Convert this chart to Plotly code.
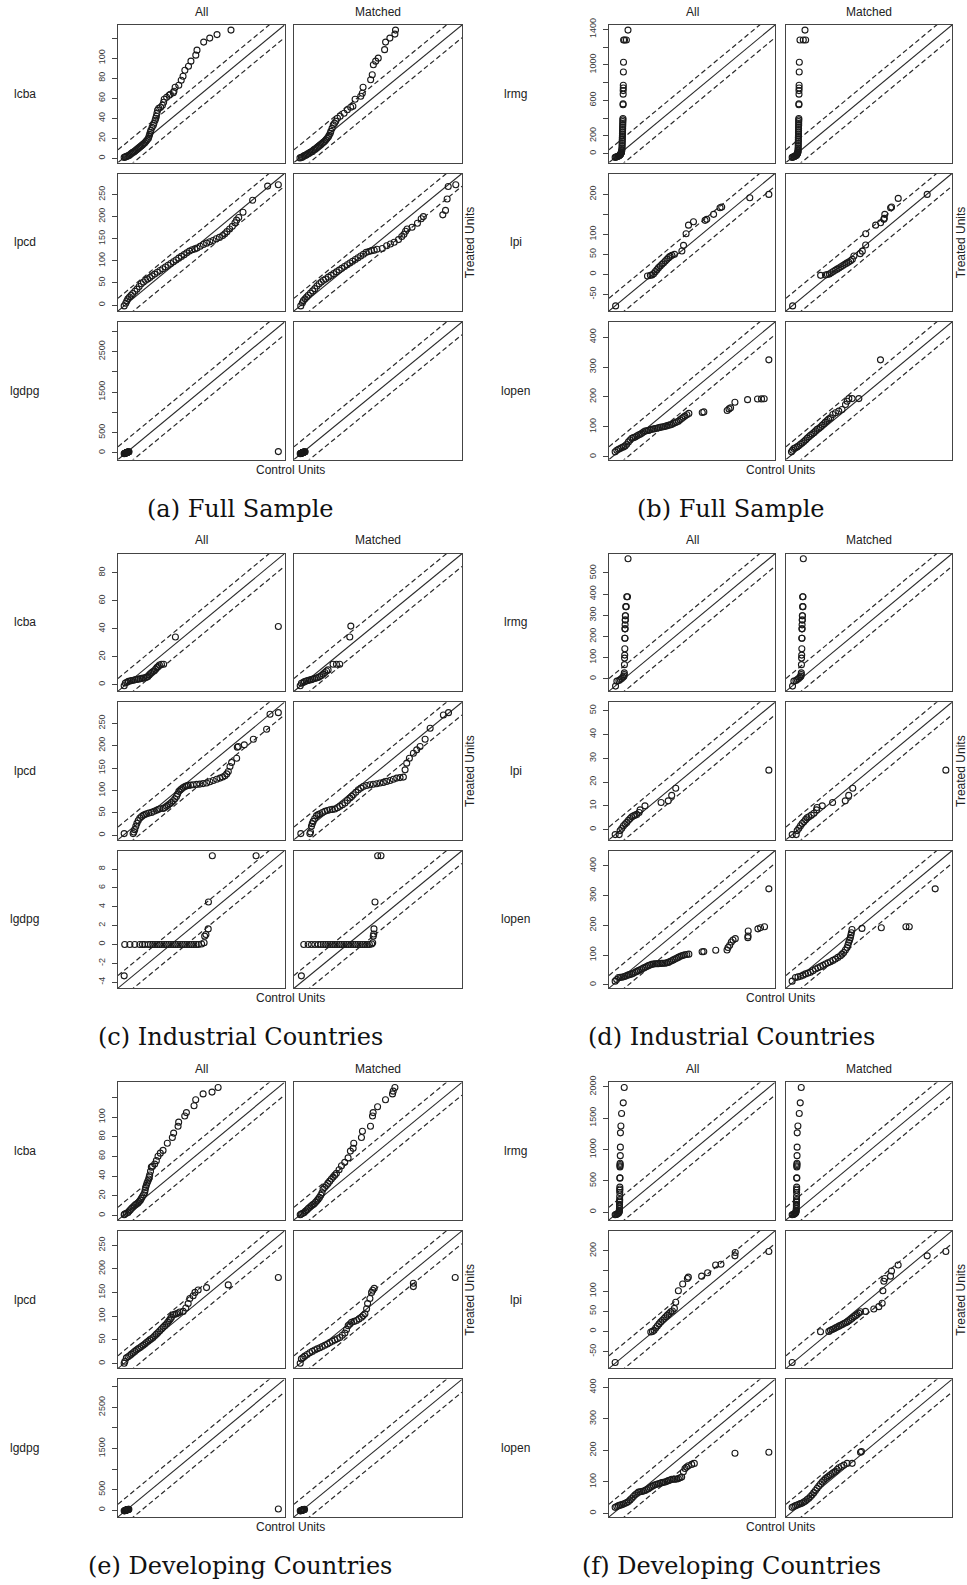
import plotly.graph_objects as go

W, H = 967, 1585

# ---------------- data: (control-unit quantile, treated-unit quantile) pairs ----------------
# (a) Full sample
a_lcba_all = [(1,1),(2,1.5),(3,2),(4,2.5),(5,3),(6,4),(7,5),(8,6),(9,6.5),(10,7.5),(11,8.5),(12,9.5),(13,10.5),(14,11.5),(15,12.5),(16,13.5),(17,14.5),(18,15.5),(19,17),(20,18.5),(21,20),(21.5,22),(22,24),(22.5,26),(23,28),(24,31),(25,33),(25.5,35),(26.5,38),(27,40),(27.5,42),(28,45),(28.5,48),(29.5,50),(31,51),(32.5,53),(33.5,56),(34,59),(36,61),(38,63),(39,64),(41.5,65.5),(42,67),(43,71),(46,73),(48,78),(49.5,82),(51,88),(54,92),(56,97),(60,103),(61,108),(66.5,116),(71.5,120),(77.5,123.5),(89,128)]
a_lcba_m = [(0.8,0.5),(2,1),(3,1.5),(4,2.5),(5,3),(6,3.5),(7,4.5),(8,5),(9,6),(10,6.5),(11,7),(12,8.5),(13,9),(14,10),(15,11),(16,12),(17,13),(18,14),(19,15),(20,16),(21,17),(22,18.5),(23,20),(24,21.5),(24.6,23),(25.5,25),(26,27),(27,30),(28,33.5),(29,35),(30,37),(31.4,40),(33.6,42),(36.8,45),(39.5,48.5),(42.2,51),(44,52),(45.8,59),(50.4,62),(51.7,65),(52.3,71),(58.5,78.5),(59.8,83.5),(60.7,93.5),(62.6,97),(64.7,100),(69.9,108.5),(70.7,116),(74.2,120),(78.3,124),(78.8,128)]
a_lpcd_all = [(-2,-2),(1,4),(3,9),(5,14),(8,18),(11,22),(14,26),(18,31),(22,36),(26,42),(30,48),(34,52),(38,56),(42,59),(46,62),(50,66),(55,70),(60,74),(65,78),(70,82),(75,86),(80,90),(85,94),(90,98),(95,102),(100,106),(105,110),(110,114),(115,118),(120,122),(125,125),(130,127),(134,129),(140,133),(146,137),(152,140),(158,143),(164,146),(170,150),(176,153),(182,157),(186,161),(190,166),(195,172),(200,178),(205,186),(208,192),(212,198),(220,210),(238,237),(266,269),(286,272)]
a_lpcd_m = [(-1,-2),(2,5),(4,10),(7,14),(10,18),(13,22),(17,27),(21,32),(25,37),(29,43),(33,48),(37,52),(41,56),(45,59),(50,63),(55,67),(60,71),(65,75),(70,79),(75,83),(80,87),(85,91),(90,95),(95,99),(100,103),(105,107),(110,111),(115,115),(120,119),(125,121),(130,123),(135,124),(140,126),(150,128),(158,134),(165,138),(172,142),(180,148),(186,155),(190,160),(193,167),(196,172),(205,176),(215,185),(222,195),(226,200),(262,204),(267,214),(270,240),(272,268),(286,272)]
a_lgdpg_all = [(-39,-20),(-30,-16),(-22,-12),(-15,-9),(-10,-6),(-6,-4),(-3,-2),(0,0),(3,2),(6,4),(9,6),(12,8),(16,10),(20,12),(25,14),(30,16),(36,18),(44,21),(52,24),(60,26),(3104,30)]
a_lgdpg_m = [(-39,-20),(-30,-16),(-22,-12),(-15,-9),(-10,-6),(-6,-4),(-3,-2),(0,0),(3,2),(6,4),(9,6),(12,8),(16,10),(20,12),(25,14),(30,16),(36,18),(44,21),(52,24),(60,26)]

# (b) Full sample
b_lrmg_all = [(-43,-43),(-35,-39),(-28,-36),(-20,-32),(-12,-28),(-6,-24),(0,-19),(4,-13),(8,-7),(10,0),(13,6),(15,12),(17,20),(18,30),(20,45),(21,60),(22,80),(22,100),(23,120),(23,140),(24,160),(24,180),(25,200),(25,220),(26,240),(26,260),(27,280),(27,300),(28,320),(28,340),(29,360),(29,380),(30,395),(31,550),(31,560),(32,670),(32,710),(33,740),(33,770),(34,920),(35,1030),(36,1280),(45,1280),(62,1280),(77,1392)]
b_lrmg_m = [(-43,-43),(-36,-39),(-29,-36),(-22,-32),(-15,-28),(-9,-24),(-4,-19),(0,-13),(3,-7),(5,0),(8,6),(10,12),(11,20),(12,30),(13,45),(13,60),(14,80),(14,100),(14,120),(15,140),(15,160),(15,180),(16,200),(16,220),(16,240),(17,260),(17,280),(17,300),(18,320),(18,340),(18,360),(19,380),(19,395),(20,550),(20,560),(21,670),(21,710),(22,740),(22,770),(23,920),(24,1030),(30,1280),(61,1280),(83,1280),(77,1392)]
b_lpi_all = [(-78,-79),(-12,-4),(-6,-2.5),(-2.6,-1.7),(0.8,1.7),(4.2,6.7),(7.7,11.7),(11,16.7),(14.5,20.8),(18,25),(21.4,29),(24.9,33.3),(28.3,37.5),(31.7,41.7),(35,45),(38.6,47.5),(44,50),(59.3,58.3),(62.7,72.5),(68,101.7),(73,123),(83.3,131.7),(107.4,135),(110.8,137.5),(125,150),(138.4,166.7),(141.8,168.3),(200,191.7),(239.5,200)]
b_lpi_m = [(-78,-79),(-20,-2.5),(-10,-1.5),(-6,-0.5),(-2,1),(2,4),(6,7),(10,10),(14,13),(18,16),(22,19),(26,22),(30,25),(34,28),(38,31),(42,34),(45.8,37.5),(49,45.8),(62,51.7),(66.4,58),(73.3,73.3),(73.5,101.7),(94,123),(104.3,129),(111,137.5),(112,140),(113,150),(125,166.7),(127,168.3),(140.8,190),(200.8,200)]
b_lopen_all = [(8,16.6),(12.6,22),(17.2,25.4),(21.8,27.6),(26.4,31),(31,33),(35.6,36.5),(40,42),(44.8,49.7),(49.4,56),(54,62),(58.6,64),(63.2,66),(67.8,69.6),(72.4,73),(77,75),(81.6,78.5),(86.2,83),(90.8,86),(95,87),(100,88),(104.5,90),(109,92),(113.5,93),(118,94),(122.8,95.5),(127.6,97),(132,98.2),(136.8,99.4),(141.4,100.5),(146,101.7),(150.5,103.3),(155,105),(159.5,106.5),(164,108),(169,111),(173.7,113.8),(178,116.4),(183,119),(187.5,123.5),(192,128),(196.5,132),(201,136),(206.5,140.5),(212,145),(249,148),(253.4,150),(318,154.7),(323,160),(327.4,163.5),(339.4,182),(374.4,191),(402,193),(413,193.5),(420.4,194),(433.3,323.8)]
b_lopen_m = [(6.1,16.6),(9,22),(12.6,27.6),(17,30),(21.8,33),(26,37),(31,42),(35.5,46),(40.3,50.8),(45,56),(49.5,62),(54,67),(58.7,72),(63,76),(68,80.7),(72.5,86),(77,91.7),(82,95.5),(86.4,99.4),(91,105),(95.6,110.5),(100,116),(104.8,121.5),(109,126),(114,130),(120.5,141.4),(128,147),(137,152.5),(146,158),(155.6,174.6),(160.2,185.6),(164.8,194.5),(174,194.5),(192.5,194.5),(252.4,323.8)]

# (c) Industrial countries
c_lcba_all = [(-1,-0.7),(-0.3,1.2),(0.6,1.8),(1.5,2.4),(2.5,2.7),(3.4,3),(4.4,3.2),(5.4,3.5),(6.4,3.8),(7.4,4),(8.4,4.2),(9.4,4.5),(10.4,4.8),(11.4,5),(12.2,5.4),(13,5.9),(13.8,7),(14.6,8),(15.3,8.7),(16,9.4),(16.8,10),(17.5,11),(18.3,12.2),(19,12.9),(19.8,14.1),(21,14.6),(22.3,14.6),(29.25,34.1),(90,41.6)]
c_lcba_m = [(-1,-0.7),(-0.3,1),(0.6,1.6),(1.5,2.2),(2.5,2.6),(3.4,3),(4.4,3.3),(5.4,3.6),(6.4,4),(7.4,4.4),(8.4,4.8),(9.4,5.2),(10.4,5.8),(11.4,6.6),(12.4,7.6),(13.4,8.7),(14.4,9.8),(15.3,10.6),(18.2,14.6),(20.2,14.6),(22.1,14.6),(28,34.1),(28.6,41.9)]
c_lpcd_all = [(1.5,3.7),(18,3.7),(19.3,7.4),(21,12.6),(23,20),(25,27),(27.5,33),(30.4,38.6),(33.5,42),(36.5,44.5),(39.5,46.5),(42.7,48),(47,49.5),(51.9,51),(56.5,53.5),(61,55.6),(64,57.5),(67.3,59.3),(73.4,60),(76.5,62),(79.6,64.5),(82.5,67.5),(85.7,70.5),(88.8,73.5),(91.9,77),(95,81.5),(98,86.8),(100,92),(102.3,98),(104.8,101),(107.3,103.9),(110.3,106.5),(113.4,109),(116.5,110.3),(119.6,111.3),(124,112),(128.8,112.8),(135,113.5),(141,114.2),(147,115.3),(153.4,116.5),(159.5,119.5),(165.7,122.4),(172,125),(178,127.6),(183,130),(187.2,132.8),(190.5,137),(193.4,142.4),(196.5,153.6),(199.5,162.5),(208.8,172),(210,196.6),(211.8,198),(222.9,201.8),(239.5,214.4),(264,236.6),(270.3,270),(285.6,273.7)]
c_lpcd_m = [(2.6,3.7),(19.1,3.7),(20.3,7.4),(22,20),(23.5,26),(25.2,31),(28,37.5),(31.3,43.8),(34.3,46),(37.4,48),(42,50.8),(46.5,53.4),(51,55.2),(55.7,57),(60.2,57.8),(64.8,58.6),(69.4,61.5),(74,64.5),(78.6,68),(83.2,72),(87.8,77.5),(92.3,83),(95.4,86.8),(98.4,90.5),(103,96),(107.6,101.6),(112.2,105.3),(116.7,109),(122.8,111),(128.9,112.8),(135,114),(141.1,115),(147.2,116.5),(153.3,118),(159.4,120.2),(165.5,122.4),(171.6,125),(177.7,127.6),(183.8,128.7),(189.9,129.8),(193,146),(196,161),(200.9,172),(208.2,183),(214.3,190.6),(220.4,198),(229.6,214.4),(238.8,238.9),(263,268.5),(272.3,273.7)]
c_lgdpg_all = [(-4.1,-3.33),(-4.05,0),(-3.6,0),(-3.17,0),(-2.73,0),(-2.5,0),(-2.3,0),(-2,0),(-1.8,0),(-1.6,0),(-1.4,0),(-1.2,0),(-1,0),(-0.8,0),(-0.6,0),(-0.4,0),(-0.2,0),(0,0),(0.2,0),(0.4,0),(0.6,0),(0.8,0),(1,0),(1.2,0),(1.4,0),(1.6,0),(1.8,0),(2,0),(2.2,0),(2.4,0),(2.68,0.05),(2.9,0.18),(2.95,0.88),(3.06,1.05),(3.26,1.65),(3.28,4.5),(3.62,9.4),(7.45,9.4)]
c_lgdpg_m = [(-4,-3.33),(-3.79,0),(-3.41,0),(-3.12,0),(-2.83,0),(-2.54,0),(-2.3,0),(-2.1,0),(-1.9,0),(-1.7,0),(-1.5,0),(-1.3,0),(-1.1,0),(-0.9,0),(-0.7,0),(-0.5,0),(-0.3,0),(-0.1,0),(0.1,0),(0.3,0),(0.5,0),(0.7,0),(0.9,0),(1.1,0),(1.3,0),(1.5,0),(1.7,0),(1.9,0),(2.1,0.05),(2.19,0.18),(2.24,0.88),(2.28,1.1),(2.3,1.65),(2.39,4.5),(2.62,9.4),(2.91,9.4)]

# (d) Industrial countries
d_lrmg_all = [(-32.8,-34.4),(-27.6,-11),(-19.7,-7.8),(-14.5,-3),(-9.2,1.6),(-4,7.8),(0,12.5),(1,20),(1.5,28),(2,67),(2.5,98),(3,112),(3.5,142),(3.5,192),(4,192),(4,236),(4.5,236),(4.5,255),(5,278),(5.5,278),(5.5,298),(6,298),(7,341),(9,341),(11,387.5),(14,387.5),(16,567)]
d_lrmg_m = [(-32.8,-34.4),(-27.6,-11),(-19.7,-7.8),(-14.5,-3),(-9.2,1.6),(-4,7.8),(0,12.5),(1,20),(1.5,28),(2,67),(2.5,98),(3,112),(3.5,142),(3.5,192),(4,192),(4,236),(4.5,236),(4.5,255),(5,278),(5.5,278),(5.5,298),(6,298),(6.5,341),(8,341),(6.7,387.5),(8,387.5),(9.3,567)]
d_lpi_all = [(-2.07,-2.08),(-0.68,-2.08),(-0.34,-0.4),(0.24,0.56),(0.82,1.67),(1.4,2.36),(1.97,3.05),(2.55,3.9),(3.13,4.7),(3.7,5.4),(4.3,5.8),(4.86,6.1),(5.44,6.4),(6.25,7.2),(6.6,8.3),(8.3,10),(13.9,11.4),(16.4,12.1),(17.6,14.4),(19,17.4),(51.4,25)]
d_lpi_m = [(-2.06,-2.08),(-0.67,-2.08),(-0.33,-0.4),(0.25,0.56),(0.83,1.67),(1.4,2.6),(2,3.3),(2.6,4.2),(3.1,5),(3.7,5.4),(4.6,6.1),(5.5,6.9),(6.4,8.3),(6.6,9.3),(8.4,10),(12,11.4),(16.4,12.1),(17.6,14.4),(19,17.4),(51.4,25)]
d_lopen_all = [(5.7,12.2),(10,18),(15,24.4),(20,25),(24.2,25.5),(29,27),(33.4,28.8),(38,31),(42.6,33.2),(47,35),(51.9,36.6),(56,39),(61,42),(66,45),(70.4,47.6),(75,50.5),(79.6,53.2),(84,56),(88.8,58.7),(93.4,61.5),(98,64.3),(102.6,66.5),(107.3,68.7),(112,69.6),(116.5,70.5),(121,70.7),(125.8,71),(130.4,71.5),(135,72),(139.5,72.2),(144,72.5),(148.7,73.8),(153.5,75.3),(158,78),(162.7,81),(167.4,83.7),(172,86.4),(176.5,89.2),(181,92),(185.7,94.7),(190.4,97.5),(195,99),(199.7,100.8),(205,102),(210.8,103),(247.7,110.8),(252.3,111.5),(285.6,116.3),(317,117),(319.8,125.2),(324.4,133),(329,144),(333.6,150.7),(340,155),(375,158.4),(375.5,164),(376,180.6),(403,188),(410.3,191.7),(421.4,195),(433.4,322.4)]
d_lopen_m = [(5.7,12.2),(15,24.4),(22,26.5),(28.9,28.8),(36,32.5),(42.8,36.6),(49.7,39.3),(56.6,42),(63.5,47.6),(70.5,53.2),(77.4,57),(84.4,61),(91.3,65.4),(98.3,69.8),(105.2,73.7),(112.2,77.6),(119,82),(126,86.4),(133,92),(140,97.5),(144.6,103),(149.2,108.6),(154,117),(158.5,125.2),(161,133.5),(163,141.8),(165.4,150),(167.7,158.4),(169,166.7),(170.5,175),(172.3,186),(200,189.5),(253.8,191.7),(322.3,195),(331.6,195.2),(403.7,322.4)]

# (e) Developing countries
e_lcba_all = [(0.7,0.7),(1.1,1.4),(2.5,2.2),(3.9,3.1),(4.9,4.5),(5.9,5.9),(7,7.3),(8.1,8.7),(9.2,9.9),(10.3,11),(11.3,11.9),(12.3,12.8),(13.3,14.2),(14.3,15.6),(15.1,17.3),(15.9,19),(16.9,21.1),(17.9,23.2),(18.3,25.8),(18.7,28.4),(19.3,30.6),(19.9,32.9),(20.6,35),(21.3,37),(21.7,39.1),(22.1,41.2),(22.8,45),(23.5,49.1),(24.5,50),(26.3,52.2),(27.7,55.7),(29.1,60.2),(31,63.3),(33.3,66.1),(36.9,73.4),(41.1,79.2),(42.2,83.7),(45.9,90.7),(46.4,94.8),(51.5,101),(52.9,104.5),(59.3,111.4),(60.7,117.6),(66.9,123.5),(74.4,125.3),(79.5,130)]
e_lcba_m = [(0.7,0.7),(1.5,1.4),(2.8,2.2),(4,3.1),(5.2,4.5),(6.4,5.9),(7.6,7.3),(8.8,8.7),(10,9.9),(11.2,11),(12.3,12),(13.4,13.4),(14.5,15),(15.6,16.6),(16.7,18.4),(17.8,20.5),(18.8,23),(19.7,26.8),(21,28.6),(22.4,30.4),(23.8,32.6),(25.2,34.9),(26.6,37),(28,39),(29.4,41),(30.8,42.9),(33,46.4),(35,50.5),(37.7,54),(40.5,58.5),(42.4,65.4),(44.7,68.2),(45.2,73.4),(51.6,79.2),(52.4,85.5),(59.1,90.7),(60.8,101),(61.3,104.5),(65,110.4),(71.6,117.6),(77.4,123.5),(78,126.3),(79.4,130)]
e_lpcd_all = [(0.7,0.7),(2,5),(4.6,12.2),(7.5,14.7),(10.4,17.2),(13.3,20),(16.2,22.9),(19.1,25.8),(22,28.7),(24.9,31.2),(27.8,33.7),(30.7,36.2),(33.7,38.7),(36.6,41.5),(39.5,44.4),(42.4,47.2),(45.3,50.1),(48.2,52.6),(51.1,55.2),(54,58.8),(57,62.3),(59.9,65.9),(62.8,69.5),(65.7,73),(68.6,76.6),(71.5,80.2),(74.4,83.8),(76.7,87.4),(79,91),(81.1,94.5),(83.2,98),(86,103.2),(89,104.3),(91.9,105.3),(94.8,107),(97.7,108.9),(103.5,110.3),(108.2,117.5),(112.3,126.8),(115.2,137.5),(121,143.3),(124.2,150.4),(129.7,155.4),(144.3,160.5),(182.2,166.2),(269.5,182)]
e_lpcd_m = [(0.7,0.7),(2.7,10),(5.6,13),(8.5,15.8),(12.8,19.4),(17.2,22.9),(21.5,25.8),(25.8,28.7),(30.2,31.2),(34.5,33.7),(38.8,36.2),(43.1,38.7),(47.5,41.5),(51.8,44.4),(56.2,47.2),(60.5,50.1),(64.8,52.6),(69.1,55.2),(73.5,59.8),(77.8,64.5),(80.7,72),(83.6,80.2),(86.5,83.8),(89.4,87.4),(93.7,89.2),(98,91),(102.3,94.5),(106.7,98),(109.6,101.6),(112.5,105.3),(115.4,116),(117.1,126.8),(121.1,137.5),(124,150.4),(126,155),(128.6,159),(196.2,162.6),(196.2,169.8),(268.5,182)]
e_lgdpg_all = [(-41,-18),(-32,-15),(-24,-12),(-17,-9),(-11,-6),(-6,-4),(-2,-1),(2,1),(6,3),(10,5),(14,7),(19,9),(24,11),(30,13),(37,15),(45,18),(54,21),(3059,26)]
e_lgdpg_m = [(-41,-18),(-32,-15),(-24,-12),(-17,-9),(-11,-6),(-6,-4),(-2,-1),(2,1),(6,3),(10,5),(14,7),(19,9),(24,11),(30,13),(37,15),(45,18)]

# (f) Developing countries
f_lrmg_all = [(-42,-42),(-32,-38),(-20,-33),(-10,-27),(-2,-18),(5,-10),(10,0),(13,16),(14,30),(15,60),(16,100),(16,125),(17,160),(17,179),(18,200),(18,250),(19,315),(19,350),(20,370),(20,400),(21,543),(21,550),(22,723),(22,740),(23,761),(24,780),(26,902),(27,1038),(28,1266),(34,1375),(43,1576),(65,1745),(78,1990)]
f_lrmg_m = [(-42,-42),(-30,-38),(-19,-33),(-10,-27),(-3,-18),(3,-10),(8,0),(11,16),(12,30),(13,60),(14,100),(14,125),(15,160),(15,179),(16,200),(16,250),(17,315),(17,350),(18,370),(18,400),(19,543),(19,550),(20,723),(20,740),(21,761),(22,780),(23,902),(24,1038),(25,1266),(34,1375),(52,1576),(65,1745),(78,1990)]
f_lpi_all = [(-79.2,-77.3),(-6,-1.7),(-2.6,0),(0.8,2.5),(4.2,8.4),(7.6,13.4),(11,18.5),(14.5,23.5),(17.9,27.7),(21.3,31.9),(24.7,36.1),(28.1,40.3),(31.5,44.5),(35,48.7),(38.4,50.4),(42.5,57),(45.2,72.3),(50.7,100.8),(59.6,117.6),(69.2,131),(71.2,134.5),(98.5,137),(110.8,145.4),(127.2,164.7),(138.2,166.4),(166.9,187.4),(167.5,195.8),(236.6,198.3)]
f_lpi_m = [(-79.2,-77.3),(-20.9,-1),(-3.8,0),(-0.4,2.5),(3,4.6),(6.5,6.7),(10,8.8),(13.3,10.9),(16.8,13),(20.2,15.1),(23.6,17.2),(27,19.3),(30.5,21.4),(33.9,23.5),(37.3,26.5),(40.7,29.4),(44.2,32.7),(47.6,36.1),(51,39),(54.4,42),(57.8,45.3),(61.2,48.7),(71.5,49.5),(88.6,55.5),(98.9,61.3),(105.8,69.7),(107.2,100.8),(109.2,124.4),(111.2,131),(122.9,137),(125,149.6),(138.6,164.7),(198.2,187.4),(236.6,198.3)]
f_lopen_all = [(5.2,19.3),(9.5,22),(13.9,24.7),(18.2,26.3),(22.6,27.9),(27,30),(31.4,32.2),(35.7,34.8),(40.1,37.5),(44.5,42.9),(48.9,48.3),(53.2,53.6),(57.6,59),(62,63.3),(66.4,67.6),(70.8,68.6),(75.1,69.7),(79.5,71.3),(83.9,72.9),(88.2,75.6),(92.6,78.3),(97,82),(101.3,85.8),(105.7,88.5),(110.1,91.2),(114.5,92.8),(118.8,94.4),(123.2,96),(127.6,97.6),(132,98.6),(136.3,99.7),(140.7,101.8),(145,104),(149.4,106.1),(153.8,108.3),(158.2,108.3),(162.5,108.3),(166.9,109.4),(171.3,110.5),(175.7,113),(180,115.8),(184.4,131.9),(188.8,142.6),(193,147),(197.5,151.2),(206.2,155.5),(213.2,158.7),(320,191),(409,194)]
f_lopen_m = [(5.2,19.3),(9.6,22),(14,24.7),(18.3,26.8),(22.7,29),(27.1,31.1),(31.5,33.2),(35.9,36.5),(40.2,39.7),(44.6,44),(49,48.3),(53.4,53.7),(57.8,59),(62.2,66),(66.5,72.9),(70.9,80),(75.3,86.9),(79.7,93.3),(84,99.7),(88.4,105),(92.8,110.5),(97.2,114.8),(101.5,119),(105.9,122.8),(110.3,126.5),(114.7,130.3),(119,134),(123.4,139.4),(127.8,144.8),(134.4,149),(141,153.4),(149.7,158.7),(162.9,158.9),(184.8,194),(187.4,196.2)]

# ---------------- tick values / labels ----------------
t_lcba_big = [0, 20, 40, 60, 80, 100, 120]
l_lcba_big = ['0', '20', '40', '60', '80', '100', '']
t_lpcd = [0, 50, 100, 150, 200, 250]
l_lpcd = ['0', '50', '100', '150', '200', '250']
t_lgdpg_big = [0, 500, 1000, 1500, 2000, 2500, 3000]
l_lgdpg_big = ['0', '500', '', '1500', '', '2500', '']
t_lrmg_full = [0, 200, 400, 600, 800, 1000, 1200, 1400]
l_lrmg_full = ['0', '200', '', '600', '', '1000', '', '1400']
t_lpi_big = [-50, 0, 50, 100, 150, 200]
l_lpi_big = ['-50', '0', '50', '100', '', '200']
t_lopen = [0, 100, 200, 300, 400]
l_lopen = ['0', '100', '200', '300', '400']
t_lcba_ind = [0, 20, 40, 60, 80]
l_lcba_ind = ['0', '20', '40', '60', '80']
t_lgdpg_ind = [-4, -2, 0, 2, 4, 6, 8]
l_lgdpg_ind = ['-4', '-2', '0', '2', '4', '6', '8']
t_lrmg_ind = [0, 100, 200, 300, 400, 500]
l_lrmg_ind = ['0', '100', '200', '300', '400', '500']
t_lpi_ind = [0, 10, 20, 30, 40, 50]
l_lpi_ind = ['0', '10', '20', '30', '40', '50']
t_lrmg_dev = [0, 500, 1000, 1500, 2000]
l_lrmg_dev = ['0', '500', '1000', '1500', '2000']

col_titles = ['All', 'Matched']
captions = ['(a) Full Sample', '(b) Full Sample', '(c) Industrial Countries',
            '(d) Industrial Countries', '(e) Developing Countries', '(f) Developing Countries']

panels = [
    (0, 0, [('lcba', a_lcba_all, a_lcba_m, t_lcba_big, l_lcba_big),
            ('lpcd', a_lpcd_all, a_lpcd_m, t_lpcd, l_lpcd),
            ('lgdpg', a_lgdpg_all, a_lgdpg_m, t_lgdpg_big, l_lgdpg_big)]),
    (1, 0, [('lrmg', b_lrmg_all, b_lrmg_m, t_lrmg_full, l_lrmg_full),
            ('lpi', b_lpi_all, b_lpi_m, t_lpi_big, l_lpi_big),
            ('lopen', b_lopen_all, b_lopen_m, t_lopen, l_lopen)]),
    (0, 1, [('lcba', c_lcba_all, c_lcba_m, t_lcba_ind, l_lcba_ind),
            ('lpcd', c_lpcd_all, c_lpcd_m, t_lpcd, l_lpcd),
            ('lgdpg', c_lgdpg_all, c_lgdpg_m, t_lgdpg_ind, l_lgdpg_ind)]),
    (1, 1, [('lrmg', d_lrmg_all, d_lrmg_m, t_lrmg_ind, l_lrmg_ind),
            ('lpi', d_lpi_all, d_lpi_m, t_lpi_ind, l_lpi_ind),
            ('lopen', d_lopen_all, d_lopen_m, t_lopen, l_lopen)]),
    (0, 2, [('lcba', e_lcba_all, e_lcba_m, t_lcba_big, l_lcba_big),
            ('lpcd', e_lpcd_all, e_lpcd_m, t_lpcd, l_lpcd),
            ('lgdpg', e_lgdpg_all, e_lgdpg_m, t_lgdpg_big, l_lgdpg_big)]),
    (1, 2, [('lrmg', f_lrmg_all, f_lrmg_m, t_lrmg_dev, l_lrmg_dev),
            ('lpi', f_lpi_all, f_lpi_m, t_lpi_big, l_lpi_big),
            ('lopen', f_lopen_all, f_lopen_m, t_lopen, l_lopen)]),
]

# ---------------- layout geometry (pixels) ----------------
COLS = {0: [(118, 284.5), (294, 462)], 1: [(609, 775), (786, 952)]}
ROW_LABEL_X = {0: 24.5, 1: 515.5}
TREATED_X = {0: 470, 1: 961}
CAP_X = {0: 240, 1: 731}
BLOCK0, BLOCK_STEP, ROW_STEP, ROW_H = 25, 528.7, 148.5, 137.5

SANS = 'Liberation Sans, Arial, Helvetica, sans-serif'
AX = '#444444'
PT = '#1a1a1a'
LN = '#2a2a2a'

fig = go.Figure()
layout = dict(template='none', width=W, height=H, autosize=False,
              margin=dict(l=0, r=0, t=0, b=0, pad=0),
              paper_bgcolor='white', plot_bgcolor='white', showlegend=False)
annotations = []


def ann(text, x, y, size=12, angle=0, family=SANS, color='#222222'):
    annotations.append(dict(text=text, x=x / W, y=1 - y / H, xref='paper', yref='paper',
                            xanchor='center', yanchor='middle', showarrow=False,
                            textangle=angle, font=dict(family=family, size=size, color=color)))


n = 0
for pi, (side, block, rows) in enumerate(panels):
    base = BLOCK0 + BLOCK_STEP * block
    for ci, (x0, x1) in enumerate(COLS[side]):
        ann(col_titles[ci], (x0 + x1) / 2, base - 13.5)
    for ri, (vname, all_pairs, m_pairs, tv, tl) in enumerate(rows):
        y0 = base + ROW_STEP * ri
        y1 = y0 + ROW_H
        vals = [v for p in all_pairs for v in p]
        lo, hi = min(vals), max(vals)
        R = hi - lo
        rng = [lo - 0.04 * R, hi + 0.04 * R]
        off = 0.1 * R
        ann(vname, ROW_LABEL_X[side], (y0 + y1) / 2)
        for ci, pairs in enumerate([all_pairs, m_pairs]):
            n += 1
            xn = 'x' if n == 1 else 'x%d' % n
            yn = 'y' if n == 1 else 'y%d' % n
            cx0, cx1 = COLS[side][ci]
            layout['xaxis' if n == 1 else 'xaxis%d' % n] = dict(
                domain=[cx0 / W, cx1 / W], range=rng, anchor=yn, showticklabels=False,
                ticks='', showline=True, mirror=True, linecolor=AX, linewidth=1,
                showgrid=False, zeroline=False, fixedrange=True, automargin=False)
            ya = dict(domain=[1 - y1 / H, 1 - y0 / H], range=rng, anchor=xn,
                      showline=True, mirror=True, linecolor=AX, linewidth=1,
                      showgrid=False, zeroline=False, fixedrange=True, automargin=False)
            if ci == 0:
                ya.update(tickmode='array', tickvals=tv, ticktext=tl, ticks='outside',
                          ticklen=5, tickwidth=1, tickcolor=AX, tickangle=-90,
                          ticklabelstandoff=3,
                          tickfont=dict(family=SANS, size=9, color='#3a3a3a'))
            else:
                ya.update(showticklabels=False, ticks='')
            layout['yaxis' if n == 1 else 'yaxis%d' % n] = ya
            # reference lines: 45-degree line and +/- 10% of range
            fig.add_trace(go.Scatter(x=[rng[0], rng[1]], y=[rng[0], rng[1]], mode='lines',
                                     line=dict(color=LN, width=1.1), xaxis=xn, yaxis=yn,
                                     hoverinfo='skip'))
            fig.add_trace(go.Scatter(x=[rng[0], rng[1], None, rng[0], rng[1]],
                                     y=[rng[0] + off, rng[1] + off, None, rng[0] - off, rng[1] - off],
                                     mode='lines', line=dict(color=LN, width=1.2, dash='5px,3px'),
                                     xaxis=xn, yaxis=yn, hoverinfo='skip'))
            xs = [p[0] for p in pairs]
            ys = [p[1] for p in pairs]
            fig.add_trace(go.Scatter(x=xs, y=ys, mode='markers', xaxis=xn, yaxis=yn,
                                     marker=dict(symbol='circle-open', size=6, color=PT,
                                                 line=dict(width=1.1, color=PT))))
    top = base
    bottom = base + 2 * ROW_STEP + ROW_H
    ann('Treated Units', TREATED_X[side], (top + bottom) / 2, angle=-90)
    ann('Control Units', (COLS[side][0][0] + COLS[side][1][1]) / 2, bottom + 10)
    ann(captions[pi], CAP_X[side], base + 483.5, size=24, family='DejaVu Serif', color='#111111')

layout['annotations'] = annotations
fig.update_layout(**layout)
fig.write_html('out.html')
